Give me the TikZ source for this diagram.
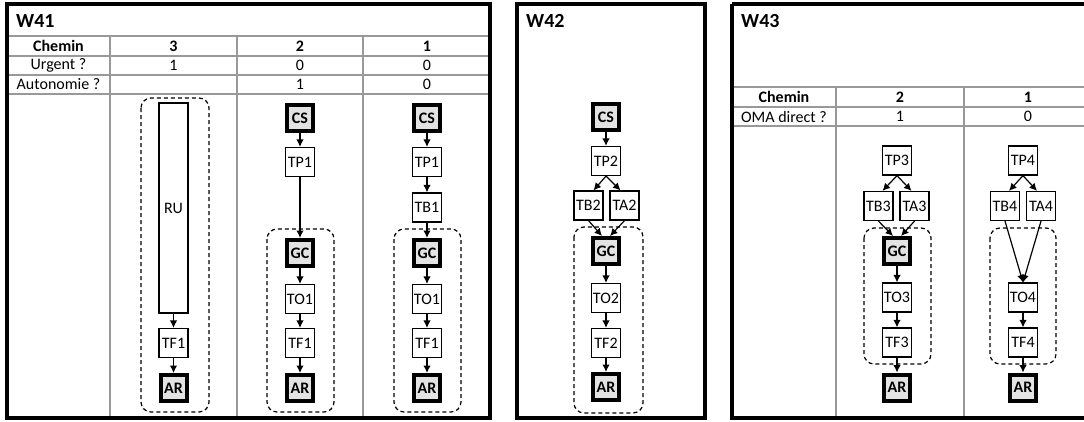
\documentclass[tikz,border=0pt]{standalone}
\usepackage{fontspec}
\setmainfont{Carlito}
\usetikzlibrary{arrows.meta}
\begin{document}
\begin{tikzpicture}[x=1pt,y=-1pt,every node/.style={font=\fontsize{16}{18}\selectfont},
  task/.style={draw,line width=1.2pt,fill=white,minimum width=29pt,minimum height=29pt,inner sep=1pt},
  hub/.style={draw,line width=4pt,fill=black!11,minimum width=26pt,minimum height=26pt,inner sep=1pt,font=\fontsize{16}{18}\selectfont\bfseries},
  group/.style={draw,line width=1.2pt,dash pattern=on 4pt off 3pt,rounded corners=10pt},
  rowline/.style={draw=black!40,line width=1.5pt},
  panel/.style={draw,line width=3.5pt},
  head/.style={font=\fontsize{16}{18}\selectfont\bfseries,inner sep=0pt},
  cell/.style={inner sep=0pt},
  title/.style={anchor=west,inner sep=0pt,font=\fontsize{20}{22}\selectfont\bfseries},
  link/.style={-{Latex[length=7.5pt,width=7.5pt]},line width=1.2pt}]
\useasboundingbox (0,0) rectangle (1084,421);
\clip (0,0) rectangle (1084,421);
% W41
\draw[rowline] (7,36) -- (490,36) (7,56) -- (490,56) (7,75) -- (490,75) (7,94) -- (490,94);
\draw[rowline] (110,36) -- (110,418) (237,36) -- (237,418) (363,36) -- (363,418);
\draw[panel] (7,4) rectangle (490,418);
\node[title] (t41) at (16,21) {W41};
\node[head] (k41) at (58.5,46) {Chemin};
\node[head] (k41a) at (173.5,46) {3};
\node[head] (k41b) at (300,46) {2};
\node[head] (k41c) at (427,46) {1};
\node[cell] (u41) at (58.5,65.5) {Urgent ?};
\node[cell] (u41a) at (173.5,65.5) {1};
\node[cell] (u41b) at (300,65.5) {0};
\node[cell] (u41c) at (427,65.5) {0};
\node[cell] (a41) at (58.5,84.5) {Autonomie ?};
\node[cell] (a41b) at (300,84.5) {1};
\node[cell] (a41c) at (427,84.5) {0};
\draw[group] (141,98) rectangle (209,412);
\draw[group] (267,229) rectangle (334,412);
\draw[group] (394,229) rectangle (461,412);
\node[task,minimum height=210pt] (ruA) at (173.5,208) {RU};
\node[task] (tfA) at (173.5,343) {TF1};
\node[hub] (arA) at (173.5,388) {AR};
\node[hub] (csB) at (300,118) {CS};
\node[task] (tpB) at (300,162) {TP1};
\node[hub] (gcB) at (300,253) {GC};
\node[task] (toB) at (300,299) {TO1};
\node[task] (tfB) at (300,343) {TF1};
\node[hub] (arB) at (300,388) {AR};
\node[hub] (csC) at (427,118) {CS};
\node[task] (tpC) at (427,162) {TP1};
\node[task] (tbC) at (427,207.5) {TB1};
\node[hub] (gcC) at (427,253) {GC};
\node[task] (toC) at (427,299) {TO1};
\node[task] (tfC) at (427,343) {TF1};
\node[hub] (arC) at (427,388) {AR};
\draw[link] (ruA) -- (tfA);
\draw[link] (tfA) -- (arA);
\draw[link] (csB) -- (tpB);
\draw[link] (tpB) -- (gcB);
\draw[link] (gcB) -- (toB);
\draw[link] (toB) -- (tfB);
\draw[link] (tfB) -- (arB);
\draw[link] (csC) -- (tpC);
\draw[link] (tpC) -- (tbC);
\draw[link] (tbC) -- (gcC);
\draw[link] (gcC) -- (toC);
\draw[link] (toC) -- (tfC);
\draw[link] (tfC) -- (arC);
% W42
\draw[panel] (517,4) rectangle (705,418);
\node[title] (t42) at (526,21) {W42};
\draw[group] (574,227) rectangle (643,413);
\node[hub] (csD) at (606,117) {CS};
\node[task] (tpD) at (606,161) {TP2};
\node[task] (tbD) at (588.5,205.5) {TB2};
\node[task] (taD) at (624.5,205.5) {TA2};
\node[hub] (gcD) at (606,251) {GC};
\node[task] (toD) at (606,298) {TO2};
\node[task] (tfD) at (606,343) {TF2};
\node[hub] (arD) at (606,387) {AR};
\draw[link] (csD) -- (tpD);
\draw[link] (tpD.south) -- ([xshift=5pt]tbD.north);
\draw[link] (tpD.south) -- ([xshift=-4pt]taD.north);
\draw[link] (tbD.south) -- ([xshift=-4pt]gcD.north);
\draw[link] (taD.south) -- ([xshift=4pt]gcD.north);
\draw[link] (gcD) -- (toD);
\draw[link] (toD) -- (tfD);
\draw[link] (tfD) -- (arD);
% W43
\draw[rowline] (732,87) -- (1090,87) (732,107) -- (1090,107) (732,126) -- (1090,126);
\draw[rowline] (836,87) -- (836,418) (964,87) -- (964,418);
\draw[panel] (732,4) -- (1090,4) (732,4) -- (732,418) -- (1090,418);
\node[title] (t43) at (741,21) {W43};
\node[head] (k43) at (784,97) {Chemin};
\node[head] (k43e) at (900,97) {2};
\node[head] (k43f) at (1028,97) {1};
\node[cell] (o43) at (784,116.5) {OMA direct ?};
\node[cell] (o43e) at (900,116.5) {1};
\node[cell] (o43f) at (1028,116.5) {0};
\draw[group] (864,228) rectangle (931,364);
\draw[group] (990,228) rectangle (1056,364);
\node[task] (tpE) at (897,160.5) {TP3};
\node[task] (tbE) at (878.5,206) {TB3};
\node[task] (taE) at (914.5,206) {TA3};
\node[hub] (gcE) at (897,251) {GC};
\node[task] (toE) at (897,297.5) {TO3};
\node[task] (tfE) at (897,342.5) {TF3};
\node[hub] (arE) at (897,387.5) {AR};
\node[task] (tpF) at (1023,160.5) {TP4};
\node[task] (tbF) at (1005,206) {TB4};
\node[task] (taF) at (1041,206) {TA4};
\node[task] (toF) at (1023,297.5) {TO4};
\node[task] (tfF) at (1023,342.5) {TF4};
\node[hub] (arF) at (1023,387.5) {AR};
\draw[link] (tpE.south) -- ([xshift=4pt]tbE.north);
\draw[link] (tpE.south) -- ([xshift=-3pt]taE.north);
\draw[link] (tbE.south) -- ([xshift=-4pt]gcE.north);
\draw[link] (taE.south) -- ([xshift=4pt]gcE.north);
\draw[link] (gcE) -- (toE);
\draw[link] (toE) -- (tfE);
\draw[link] (tfE) -- (arE);
\draw[link] (tpF.south) -- ([xshift=4pt]tbF.north);
\draw[link] (tpF.south) -- ([xshift=-4pt]taF.north);
\draw[link] (tbF.south) -- (toF.north);
\draw[link] (taF.south) -- (toF.north);
\draw[link] (toF) -- (tfF);
\draw[link] (tfF) -- (arF);
\end{tikzpicture}
\end{document}
